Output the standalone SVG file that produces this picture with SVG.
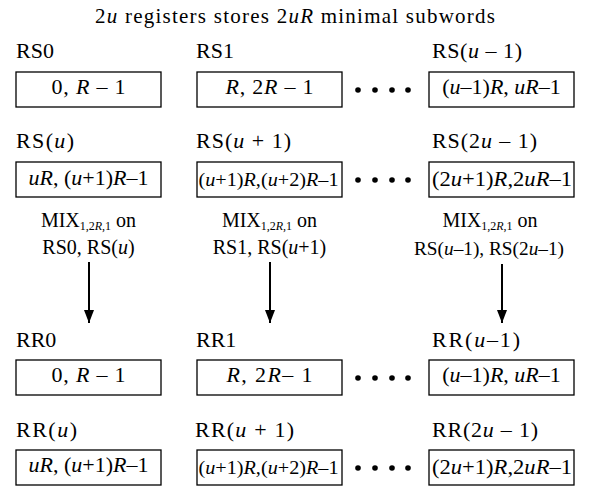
<svg xmlns="http://www.w3.org/2000/svg" width="589" height="486" viewBox="0 0 589 486" font-family="'Liberation Serif','Times New Roman',serif">
<style>
text{font-family:"Liberation Serif","Times New Roman",serif;fill:#000}
.t{font-size:21px}
.lab{font-size:22px}
.bt{font-size:22px;text-anchor:middle}
.bs{font-size:19px;text-anchor:middle}
.mix{font-size:20px;text-anchor:middle}
.mix3{font-size:19px;text-anchor:middle}
.sub{font-size:12px}
.box{fill:#fff;stroke:#000;stroke-width:1.3}
.i{font-style:italic}
.conn line{stroke:#000;stroke-width:2}
.dot{fill:#000}
</style>
<defs>
<marker id="ah" viewBox="0 0 13 10" refX="13" refY="5" markerWidth="13" markerHeight="10" markerUnits="userSpaceOnUse" orient="auto">
<path d="M0,0 L13,5 L0,10 Z" fill="#000"/>
</marker>
</defs>
<rect width="589" height="486" fill="#fff"/>
<text class="t" x="95" y="23" textLength="400" lengthAdjust="spacing">2<tspan class="i">u</tspan> registers stores 2<tspan class="i">uR</tspan> minimal subwords</text>

<g id="RS0"><text class="lab" x="16" y="58">RS0</text><rect class="box" x="16" y="72" width="145" height="35"/><text class="bt" x="88.5" y="94" textLength="74" lengthAdjust="spacing">0, <tspan class="i">R</tspan> – 1</text></g>
<g id="RS1"><text class="lab" x="196" y="58">RS1</text><rect class="box" x="197" y="72" width="145" height="35"/><text class="bt" x="269.5" y="94" textLength="88" lengthAdjust="spacing"><tspan class="i">R</tspan>, 2<tspan class="i">R</tspan> – 1</text></g>
<g id="RSu-1"><text class="lab" x="432" y="58" textLength="90" lengthAdjust="spacing">RS(<tspan class="i">u</tspan> – 1)</text><rect class="box" x="429" y="72" width="145" height="35"/><text class="bt" x="501.5" y="94">(<tspan class="i">u</tspan>–1)<tspan class="i">R</tspan>, <tspan class="i">uR</tspan>–1</text></g>

<g id="RSu"><text class="lab" x="16" y="148" textLength="58" lengthAdjust="spacing">RS(<tspan class="i">u</tspan>)</text><rect class="box" x="16" y="162" width="145" height="35"/><text class="bt" x="88.5" y="185"><tspan class="i">uR</tspan>, (<tspan class="i">u</tspan>+1)<tspan class="i">R</tspan>–1</text></g>
<g id="RSu+1"><text class="lab" x="196" y="148" textLength="95" lengthAdjust="spacing">RS(<tspan class="i">u</tspan> + 1)</text><rect class="box" x="197" y="162" width="145" height="35"/><text class="bs" x="268.5" y="186" textLength="140" lengthAdjust="spacingAndGlyphs">(<tspan class="i">u</tspan>+1)<tspan class="i">R</tspan>,(<tspan class="i">u</tspan>+2)<tspan class="i">R</tspan>–1</text></g>
<g id="RS2u-1"><text class="lab" x="432" y="148" textLength="105" lengthAdjust="spacing">RS(2<tspan class="i">u</tspan> – 1)</text><rect class="box" x="429" y="162" width="145" height="35"/><text class="bt" x="502" y="186" textLength="140" lengthAdjust="spacingAndGlyphs">(2<tspan class="i">u</tspan>+1)<tspan class="i">R</tspan>,2<tspan class="i">uR</tspan>–1</text></g>

<g id="mix1"><text class="mix" x="88.5" y="227">MIX<tspan class="sub" dy="3">1,2<tspan class="i">R</tspan>,1</tspan><tspan dy="-3"> on</tspan></text><text class="mix" x="88.5" y="254">RS0, RS(<tspan class="i">u</tspan>)</text></g>
<g id="mix2"><text class="mix" x="269.5" y="227">MIX<tspan class="sub" dy="3">1,2<tspan class="i">R</tspan>,1</tspan><tspan dy="-3"> on</tspan></text><text class="mix" x="269.5" y="254">RS1, RS(<tspan class="i">u</tspan>+1)</text></g>
<g id="mix3"><text class="mix" x="490" y="227">MIX<tspan class="sub" dy="3">1,2<tspan class="i">R</tspan>,1</tspan><tspan dy="-3"> on</tspan></text><text class="mix3" x="489" y="255" textLength="150" lengthAdjust="spacingAndGlyphs">RS(<tspan class="i">u</tspan>–1), RS(2<tspan class="i">u</tspan>–1)</text></g>

<g id="RR0"><text class="lab" x="16" y="347">RR0</text><rect class="box" x="16" y="360" width="145" height="35"/><text class="bt" x="88.5" y="382" textLength="74" lengthAdjust="spacing">0, <tspan class="i">R</tspan> – 1</text></g>
<g id="RR1"><text class="lab" x="196" y="347">RR1</text><rect class="box" x="197" y="360" width="145" height="35"/><text class="bt" x="269.5" y="382" textLength="86" lengthAdjust="spacing"><tspan class="i">R</tspan>, 2<tspan class="i">R</tspan>– 1</text></g>
<g id="RRu-1"><text class="lab" x="432" y="347" textLength="88" lengthAdjust="spacing">RR(<tspan class="i">u</tspan>–1)</text><rect class="box" x="429" y="360" width="145" height="35"/><text class="bt" x="501.5" y="382">(<tspan class="i">u</tspan>–1)<tspan class="i">R</tspan>, <tspan class="i">uR</tspan>–1</text></g>

<g id="RRu"><text class="lab" x="16" y="437" textLength="61" lengthAdjust="spacing">RR(<tspan class="i">u</tspan>)</text><rect class="box" x="16" y="450" width="145" height="35"/><text class="bt" x="88.5" y="472"><tspan class="i">uR</tspan>, (<tspan class="i">u</tspan>+1)<tspan class="i">R</tspan>–1</text></g>
<g id="RRu+1"><text class="lab" x="195" y="437" textLength="99" lengthAdjust="spacing">RR(<tspan class="i">u</tspan> + 1)</text><rect class="box" x="197" y="450" width="145" height="35"/><text class="bs" x="268.5" y="474" textLength="140" lengthAdjust="spacingAndGlyphs">(<tspan class="i">u</tspan>+1)<tspan class="i">R</tspan>,(<tspan class="i">u</tspan>+2)<tspan class="i">R</tspan>–1</text></g>
<g id="RR2u-1"><text class="lab" x="432" y="437" textLength="106" lengthAdjust="spacing">RR(2<tspan class="i">u</tspan> – 1)</text><rect class="box" x="429" y="450" width="145" height="35"/><text class="bt" x="502" y="474" textLength="140" lengthAdjust="spacingAndGlyphs">(2<tspan class="i">u</tspan>+1)<tspan class="i">R</tspan>,2<tspan class="i">uR</tspan>–1</text></g>

<g id="ellipses">
<circle class="dot" cx="358" cy="90" r="2.8"/><circle class="dot" cx="375" cy="90" r="2.8"/><circle class="dot" cx="392" cy="90" r="2.8"/><circle class="dot" cx="408" cy="90" r="2.8"/>
<circle class="dot" cx="358" cy="180" r="2.8"/><circle class="dot" cx="375" cy="180" r="2.8"/><circle class="dot" cx="392" cy="180" r="2.8"/><circle class="dot" cx="408" cy="180" r="2.8"/>
<circle class="dot" cx="358" cy="378" r="2.8"/><circle class="dot" cx="375" cy="378" r="2.8"/><circle class="dot" cx="392" cy="378" r="2.8"/><circle class="dot" cx="408" cy="378" r="2.8"/>
<circle class="dot" cx="358" cy="468" r="2.8"/><circle class="dot" cx="375" cy="468" r="2.8"/><circle class="dot" cx="392" cy="468" r="2.8"/><circle class="dot" cx="408" cy="468" r="2.8"/>
</g>

<g id="connectors" class="conn">
<line x1="89" y1="262" x2="89" y2="323" marker-end="url(#ah)"/>
<line x1="270" y1="262" x2="270" y2="323" marker-end="url(#ah)"/>
<line x1="502" y1="264" x2="502" y2="323" marker-end="url(#ah)"/>
</g>
</svg>
